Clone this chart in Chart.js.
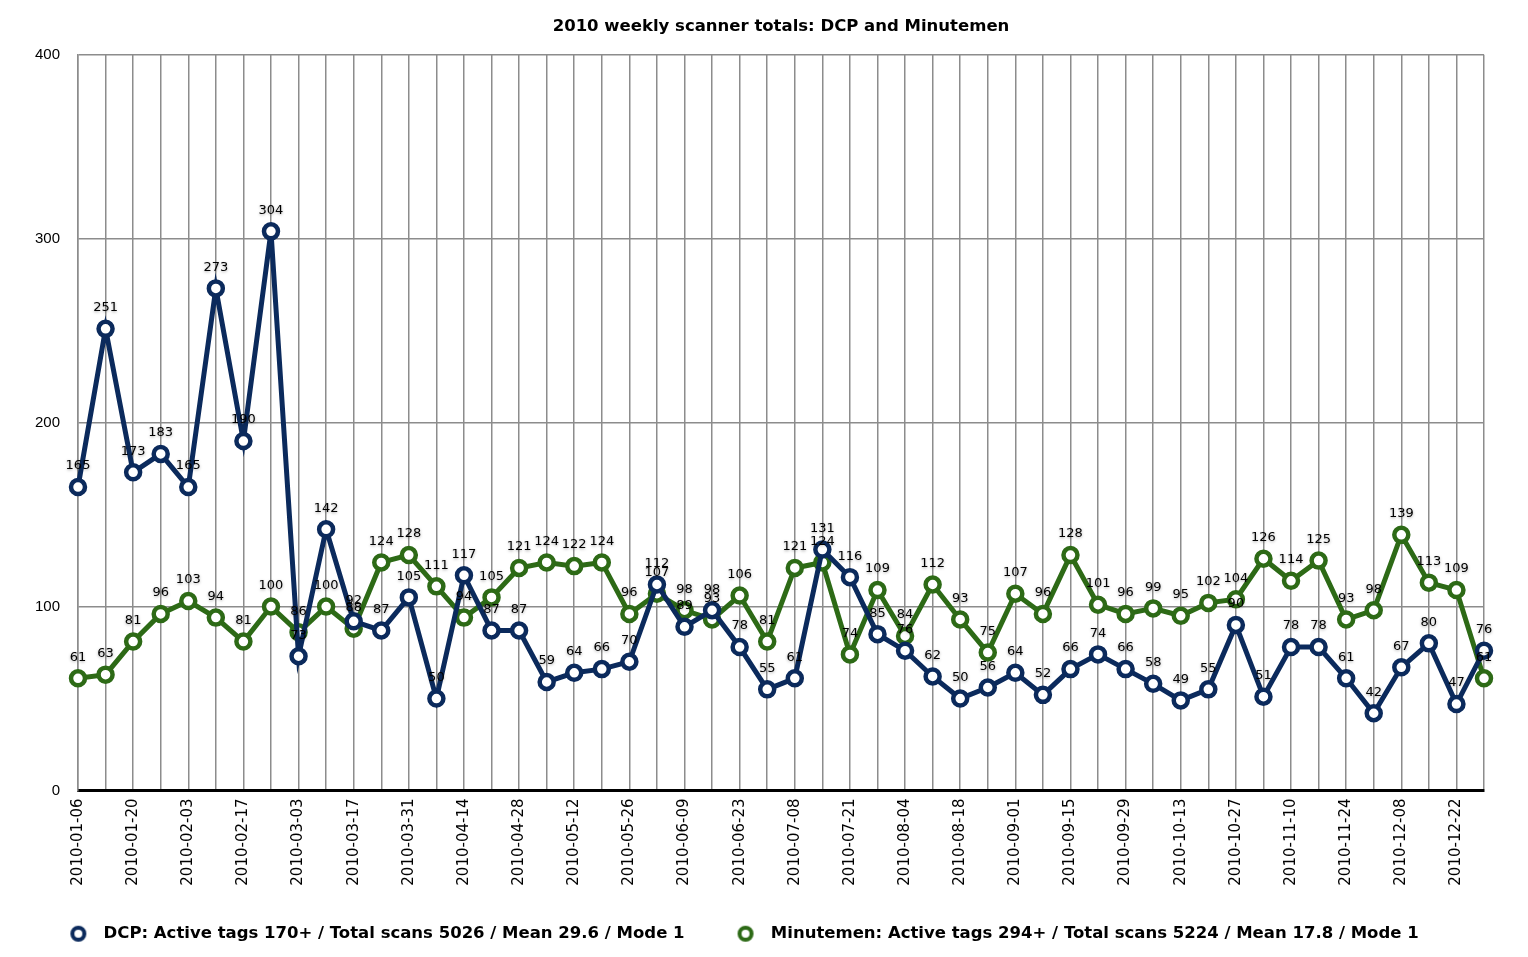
<!DOCTYPE html>
<html>
<head>
<meta charset="utf-8">
<script src="https://cdn.jsdelivr.net/npm/chart.js@4.4.1/dist/chart.umd.min.js"></script>
<style>
  html, body { margin: 0; padding: 0; background: #fff; }
  #wrap { width: 1528px; height: 957px; }
</style>
</head>
<body>
<div id="wrap"><canvas id="chart"></canvas></div>
<script>
const weeks = [
  "2010-01-06", "2010-01-13", "2010-01-20", "2010-01-27",
  "2010-02-03", "2010-02-10", "2010-02-17", "2010-02-24",
  "2010-03-03", "2010-03-10", "2010-03-17", "2010-03-24", "2010-03-31",
  "2010-04-07", "2010-04-14", "2010-04-21", "2010-04-28",
  "2010-05-05", "2010-05-12", "2010-05-19", "2010-05-26",
  "2010-06-02", "2010-06-09", "2010-06-16", "2010-06-23", "2010-06-30",
  "2010-07-08", "2010-07-14", "2010-07-21", "2010-07-28",
  "2010-08-04", "2010-08-11", "2010-08-18", "2010-08-25",
  "2010-09-01", "2010-09-08", "2010-09-15", "2010-09-22", "2010-09-29",
  "2010-10-06", "2010-10-13", "2010-10-20", "2010-10-27",
  "2010-11-03", "2010-11-10", "2010-11-17", "2010-11-24",
  "2010-12-01", "2010-12-08", "2010-12-15", "2010-12-22", "2010-12-29"
];

const dcpScans = [
  165, 251, 173, 183, 165, 273, 190, 304, 73, 142, 92, 87, 105,
  50, 117, 87, 87, 59, 64, 66, 70, 112, 89, 98, 78, 55,
  61, 131, 116, 85, 76, 62, 50, 56, 64, 52, 66, 74, 66,
  58, 49, 55, 90, 51, 78, 78, 61, 42, 67, 80, 47, 76
];

const minutemenScans = [
  61, 63, 81, 96, 103, 94, 81, 100, 86, 100, 88, 124, 128,
  111, 94, 105, 121, 124, 122, 124, 96, 107, 98, 93, 106, 81,
  121, 124, 74, 109, 84, 112, 93, 75, 107, 96, 128, 101, 96,
  99, 95, 102, 104, 126, 114, 125, 93, 98, 139, 113, 109, 61
];

const yTicks = [0, 100, 200, 300, 400];

const DCP_LABEL = "DCP: Active tags 170+ / Total scans 5026 / Mean 29.6 / Mode 1";
const MM_LABEL = "Minutemen: Active tags 294+ / Total scans 5224 / Mean 17.8 / Mode 1";

const FONT = "'Liberation Sans', Arial, Helvetica, sans-serif";
const WIDE = "'DejaVu Sans', Verdana, sans-serif";
const BLUE = "#0b2a5c";
const GREEN = "#2d6a16";

// little ring used as legend marker (drawn a bit right of centre)
function ringMarker(color) {
  const c = document.createElement("canvas");
  c.width = 40;
  c.height = 20;
  const g = c.getContext("2d");
  g.beginPath();
  g.arc(28, 10, 6, 0, Math.PI * 2);
  g.fillStyle = "#fff";
  g.fill();
  g.lineWidth = 4;
  g.strokeStyle = color;
  g.stroke();
  return c;
}
const markers = [ringMarker(BLUE), ringMarker(GREEN)];

// numbers above each point
const valueLabels = {
  id: "valueLabels",
  afterDatasetsDraw(chart) {
    const ctx = chart.ctx;
    ctx.save();
    ctx.font = "13px " + WIDE;
    ctx.textAlign = "center";
    ctx.textBaseline = "middle";
    ctx.fillStyle = "#000";
    ctx.shadowColor = "rgba(0,0,0,0.35)";
    ctx.shadowBlur = 3;
    ctx.shadowOffsetY = 1;
    for (let i = chart.data.datasets.length - 1; i >= 0; i--) {
      const meta = chart.getDatasetMeta(i);
      const values = chart.data.datasets[i].data;
      meta.data.forEach((pt, j) => {
        ctx.fillText(String(values[j]), pt.x, pt.y - 21);
      });
    }
    ctx.restore();
  }
};

function makeSet(label, data, color) {
  return {
    label: label,
    data: data,
    borderColor: color,
    backgroundColor: "#ffffff",
    borderWidth: 5,
    tension: 0,
    fill: false,
    pointRadius: 7,
    pointHoverRadius: 7,
    pointBorderWidth: 4.5,
    pointBackgroundColor: "#ffffff",
    pointBorderColor: color
  };
}

new Chart(document.getElementById("chart"), {
  type: "line",
  data: {
    labels: weeks,
    datasets: [
      makeSet(DCP_LABEL, dcpScans, BLUE),
      makeSet(MM_LABEL, minutemenScans, GREEN)
    ]
  },
  plugins: [valueLabels],
  options: {
    responsive: true,
    maintainAspectRatio: false,
    animation: false,
    layout: {
      // negative left padding nudges the centred legend to the left
      padding: { left: -20, right: 44, top: 0, bottom: 5 }
    },
    plugins: {
      title: {
        display: true,
        fullSize: false,
        text: "2010 weekly scanner totals: DCP and Minutemen",
        color: "#000",
        font: { family: WIDE, size: 16.5, weight: "bold" },
        padding: { top: 17, bottom: 18 }
      },
      legend: {
        position: "bottom",
        labels: {
          color: "#000",
          font: { family: WIDE, size: 16.5, weight: "bold" },
          usePointStyle: true,
          pointStyleWidth: 50,
          boxHeight: 12,
          padding: 28,
          generateLabels(chart) {
            const items = Chart.defaults.plugins.legend.labels.generateLabels(chart);
            items.forEach((it, i) => {
              it.pointStyle = markers[i];
            });
            return items;
          }
        }
      },
      tooltip: { enabled: false }
    },
    scales: {
      x: {
        offset: false,
        afterFit(scale) {
          scale.height = 107;
        },
        grid: {
          color: "#8c8c8c",
          lineWidth: 1.5,
          drawTicks: false
        },
        border: { color: "#000", width: 3 },
        ticks: {
          autoSkip: false,
          minRotation: 90,
          maxRotation: 90,
          padding: 8,
          color: "#000",
          font: { family: WIDE, size: 15 },
          callback(val, i) {
            return i % 2 === 0 ? this.getLabelForValue(val) : "";
          }
        }
      },
      y: {
        min: yTicks[0],
        max: yTicks[yTicks.length - 1],
        afterFit(scale) {
          scale.width = 98;
        },
        afterBuildTicks(scale) {
          scale.ticks = yTicks.map((v) => ({ value: v }));
        },
        grid: {
          color: "#8c8c8c",
          lineWidth: 1.5,
          drawTicks: false
        },
        border: { color: "#8c8c8c", width: 1.5 },
        ticks: {
          padding: 18,
          color: "#000",
          font: { family: FONT, size: 15 }
        }
      }
    }
  }
});
</script>
</body>
</html>
